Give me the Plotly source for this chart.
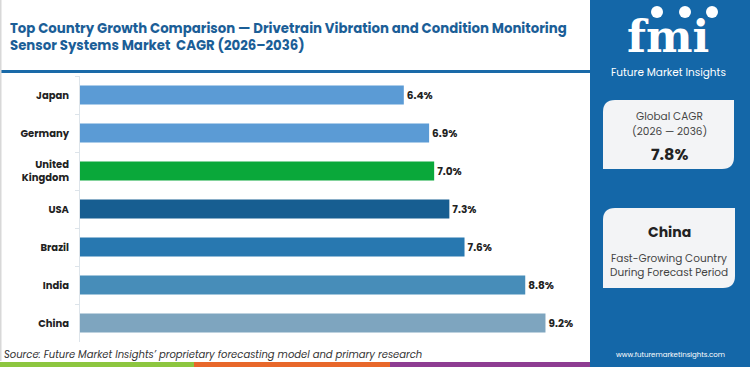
import plotly.graph_objects as go

countries = ["Japan", "Germany", "United<br>Kingdom", "USA", "Brazil", "India", "China"]
cagr = [6.4, 6.9, 7.0, 7.3, 7.6, 8.8, 9.2]
bar_colors = ["#5b9bd5", "#5b9bd5", "#0aa83a", "#175e91", "#2878b0", "#478db9", "#7ea5bf"]
value_labels = [f"{v:.1f}%" for v in cagr]

title_text = ("Top Country Growth Comparison \u2014 Drivetrain Vibration and Condition Monitoring<br>"
              "Sensor Systems Market  CAGR (2026\u20132036)")
global_cagr = "7.8%"
source_text = "Source: Future Market Insights\u2019 proprietary forecasting model and primary research"

W, H = 750, 367
def X(px): return px / W
def Y(py): return 1 - py / H

FONT = "Poppins, 'Open Sans', Roboto, sans-serif"

fig = go.Figure()
fig.add_trace(go.Bar(
    x=cagr, y=countries, orientation="h",
    marker=dict(color=bar_colors, line=dict(width=0)),
    width=0.5,
    text=value_labels, textposition="outside",
    textfont=dict(family=FONT, size=10.5, color="#222222", weight="bold"),
    cliponaxis=False, hoverinfo="skip",
))

shapes = []
shapes.append(dict(type="rect", xref="paper", yref="paper", x0=X(590), x1=X(750), y0=Y(367), y1=Y(0),
                   fillcolor="#1467a8", line=dict(width=0), layer="below"))
shapes.append(dict(type="rect", xref="paper", yref="paper", x0=X(0), x1=X(590), y0=Y(73), y1=Y(70),
                   fillcolor="#1a6aa8", line=dict(width=0)))
shapes.append(dict(type="rect", xref="paper", yref="paper", x0=X(0), x1=X(1.5), y0=Y(361), y1=Y(0),
                   fillcolor="#d8d8d8", line=dict(width=0)))
for x0, x1, c in [(0, 194, "#8dc63f"), (194, 390, "#e8672a"), (390, 590, "#8e3c92")]:
    shapes.append(dict(type="rect", xref="paper", yref="paper", x0=X(x0), x1=X(x1), y0=Y(367), y1=Y(362),
                       fillcolor=c, line=dict(width=0)))

def rounded_box(x0, y0, x1, y1, r):
    pts = (f"M {X(x0)},{Y(y0 + r)} "
           f"Q {X(x0)},{Y(y0)} {X(x0 + r)},{Y(y0)} "
           f"L {X(x1)},{Y(y0)} "
           f"L {X(x1)},{Y(y1 - r)} "
           f"Q {X(x1)},{Y(y1)} {X(x1 - r)},{Y(y1)} "
           f"L {X(x0)},{Y(y1)} Z")
    return dict(type="path", xref="paper", yref="paper", path=pts,
                fillcolor="#f3f4f6", line=dict(width=0))

shapes.append(rounded_box(603, 100, 734, 169, 12))
shapes.append(rounded_box(603, 208, 735, 288, 12))

for cx in [657, 685, 712]:
    shapes.append(dict(type="circle", xref="paper", yref="paper",
                       x0=X(cx - 6), x1=X(cx + 6), y0=Y(18), y1=Y(6),
                       fillcolor="white", line=dict(width=0)))

def ann(text, x, y, size, color, anchor="center", weight="normal", style="normal", family=FONT):
    return dict(text=text, x=X(x), y=Y(y), xref="paper", yref="paper", xanchor=anchor, yanchor="middle",
                align="left" if anchor == "left" else "center", showarrow=False,
                font=dict(family=family, size=size, color=color, weight=weight, style=style))

annotations = [
    ann(title_text, 8, 37, 13.3, "#1b5e97", anchor="left", weight="bold"),
    ann("fmi", 668, 36, 44, "white", weight="bold", family="DejaVu Serif"),
    ann("Future Market Insights", 668, 72, 10.5, "white"),
    ann("Global CAGR", 669, 117, 10.5, "#444444"),
    ann("(2026 \u2014 2036)", 669, 131, 10.5, "#444444"),
    ann(global_cagr, 669, 154, 16, "#222222", weight="bold"),
    ann("China", 669, 232, 14, "#222222", weight="bold"),
    ann("Fast-Growing Country", 669, 258, 10.5, "#444444"),
    ann("During Forecast Period", 669, 272, 10.5, "#444444"),
    ann(source_text, 2, 354, 10, "#333333", anchor="left", style="italic"),
    ann("www.futuremarketinsights.com", 670, 354, 7, "white"),
]

fig.update_layout(
    width=W, height=H, margin=dict(l=0, r=0, t=0, b=0),
    paper_bgcolor="white", plot_bgcolor="white",
    showlegend=False, bargap=0.5,
    xaxis=dict(domain=[X(80), X(590)], range=[0, 10.08], visible=False, fixedrange=True),
    yaxis=dict(domain=[Y(342), Y(76)], autorange="reversed", showline=True, linecolor="#dde4ea",
               linewidth=1, ticks="outside", tickson="boundaries", ticklen=4, tickcolor="#dde4ea",
               showgrid=False, ticklabelstandoff=8, fixedrange=True,
               tickfont=dict(family=FONT, size=10, color="#222222", weight="bold")),
    shapes=shapes, annotations=annotations,
)

fig.write_html("out.html", config={"displayModeBar": False},
               post_script="document.body.style.margin='0';document.body.style.overflow='hidden';")
